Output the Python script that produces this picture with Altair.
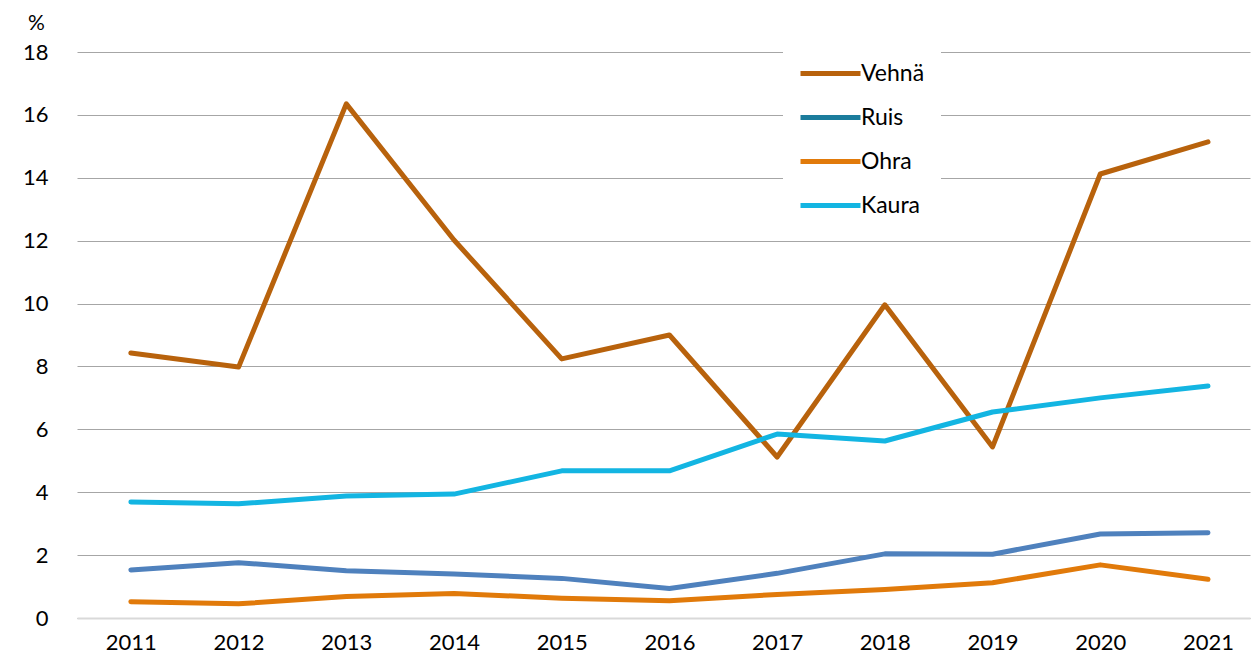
import altair as alt
import pandas as pd

years = [2011, 2012, 2013, 2014, 2015, 2016, 2017, 2018, 2019, 2020, 2021]
vehna = [8.43, 7.98, 16.35, 12.02, 8.24, 9.0, 5.12, 9.96, 5.44, 14.12, 15.14]
ruis = [1.53, 1.76, 1.50, 1.40, 1.26, 0.94, 1.42, 2.04, 2.03, 2.67, 2.71]
ohra = [0.52, 0.45, 0.68, 0.78, 0.63, 0.55, 0.75, 0.91, 1.12, 1.69, 1.23]
kaura = [3.69, 3.63, 3.88, 3.94, 4.68, 4.68, 5.85, 5.63, 6.55, 7.0, 7.38]

series_names = ["Vehnä", "Ruis", "Ohra", "Kaura"]
legend_colors = ["#B8620C", "#1B7C9C", "#E17A0A", "#13B5E2"]
ruis_line_color = "#4F81BD"

rows = []
for name, vals in zip(series_names, [vehna, ruis, ohra, kaura]):
    for y, v in zip(years, vals):
        rows.append({"vuosi": y, "sarja": name, "arvo": v})
df = pd.DataFrame(rows)

FONT = "Lato"

x_enc = alt.X(
    "vuosi:Q",
    scale=alt.Scale(domain=[2010.5, 2021.39], nice=False, zero=False),
    axis=alt.Axis(
        values=years, format="d", title=None, grid=False, ticks=False,
        domain=True, domainColor="#D9D9D9", domainWidth=2,
        labelFontSize=22, labelColor="#000000", labelFont=FONT,
        labelPadding=14, labelFlush=False,
    ),
)
y_enc = alt.Y(
    "arvo:Q",
    scale=alt.Scale(domain=[0, 18], nice=False),
    axis=alt.Axis(
        values=[0, 2, 4, 6, 8, 10, 12, 14, 16, 18], title="%",
        titleAngle=0, titleX=-41, titleY=-29, titleAlign="center",
        titleBaseline="middle", titleFontSize=21, titleFontWeight="normal",
        titleFont=FONT, titleColor="#000000",
        grid=True, gridColor="#A6A6A6", gridWidth=1, domain=False,
        ticks=False, tickSize=0, labelFontSize=22, labelColor="#000000",
        labelFont=FONT, labelPadding=29,
    ),
)

main = alt.Chart(df).transform_filter(alt.datum.sarja != "Ruis").mark_line(
    strokeWidth=5, strokeCap="round", strokeJoin="round"
).encode(
    x=x_enc,
    y=y_enc,
    color=alt.Color(
        "sarja:N",
        scale=alt.Scale(domain=series_names, range=legend_colors),
        legend=alt.Legend(
            title=None, orient="none", legendX=706, legendY=-6,
            symbolType="M-1,0H5", symbolSize=400, symbolStrokeWidth=5,
            labelFontSize=23, labelFont=FONT, labelColor="#000000",
            labelOffset=38, rowPadding=19, padding=15,
            fillColor="#FFFFFF", strokeColor="#FFFFFF",
        ),
    ),
    order=alt.Order("sarja:N"),
)

ruis_layer = alt.Chart(df).transform_filter(alt.datum.sarja == "Ruis").mark_line(
    strokeWidth=5, strokeCap="round", strokeJoin="round", color=ruis_line_color
).encode(x=x_enc, y=y_enc)

chart = alt.layer(ruis_layer, main).properties(
    width=1173, height=566,
    autosize=alt.AutoSizeParams(type="none"),
    padding={"left": 69, "top": 44, "right": 2, "bottom": 37},
).configure_view(stroke=None)

chart.save("out.html", embed_options={"renderer": "svg", "actions": False})
